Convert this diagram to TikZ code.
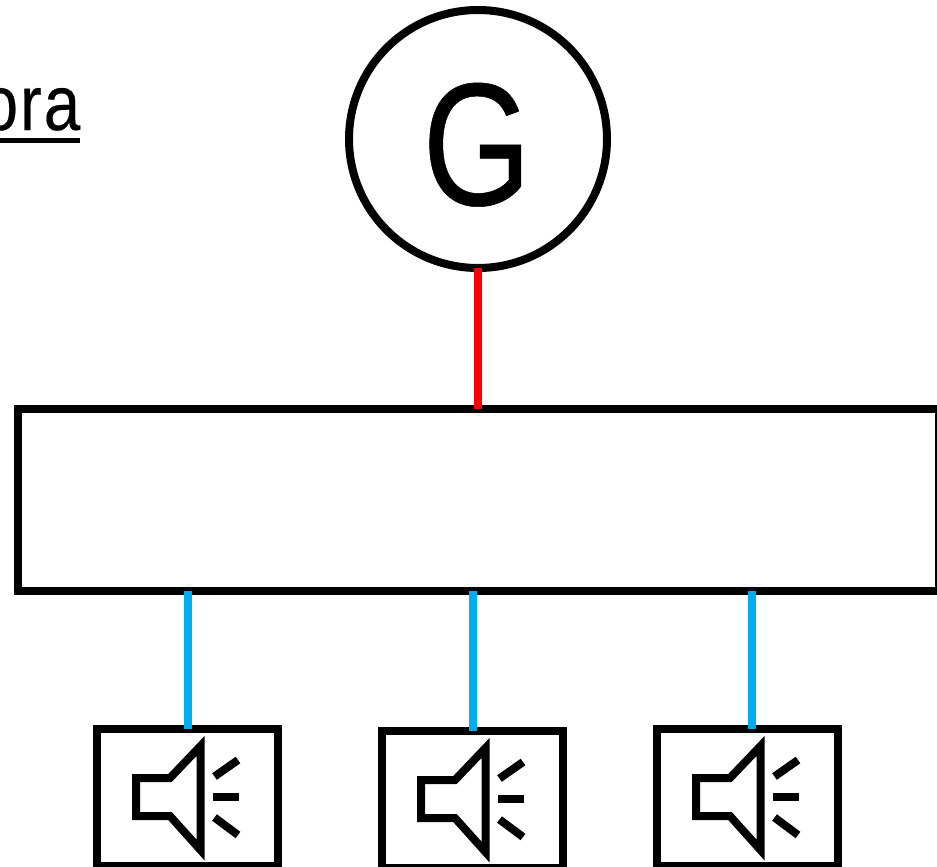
\documentclass[tikz,border=0pt]{standalone}
\usepackage{graphicx}
\usepackage{fontspec}
\setmainfont{Liberation Sans}
\newfontfamily\heavierfont[FakeBold=0.3]{Liberation Sans}
\newfontfamily\spacedfont[FakeBold=0.3,LetterSpace=3]{Liberation Sans}
\definecolor{wireblue}{HTML}{00AEEF}
\tikzset{
  x=1pt,y=-1pt,
  heavy/.style={draw=black,line width=8pt,fill=none,outer sep=0pt,inner sep=0pt,rectangle},
  spkbox/.style={heavy,minimum width=181pt,minimum height=137pt},
  redwire/.style={draw=red,line width=8pt},
  bluewire/.style={draw=wireblue,line width=8pt},
  pics/loudspeaker/.style={code={
    \draw[black,line width=8pt,miter limit=10] (136,778) -- (170,778) -- (200.5,746) -- (200.5,850) -- (170,816) -- (136,816) -- cycle;
    \draw[black,line width=8pt] (214.5,776.5) -- (238,760);
    \draw[black,line width=8pt] (213,797) -- (239,797);
    \draw[black,line width=8pt] (214.5,817.5) -- (238,835);
  }}
}
\begin{document}
\begin{tikzpicture}
\useasboundingbox (0,0) rectangle (937,867);
\clip (0,0) rectangle (937,867);
\node[circle,draw=black,line width=8pt,minimum size=258pt,inner sep=0pt,outer sep=0pt] (gen) at (478,139) {};
\node[anchor=base,inner sep=0pt] (glabel) at (477,205) {\scalebox{.80}[1]{\fontsize{175}{175}\selectfont\heavierfont G}};
\node[anchor=base east,inner sep=0pt] (oralabel) at (80.5,130) {\scalebox{.84}[1]{\fontsize{78}{78}\selectfont\spacedfont ora}};
\coordinate (ulstart) at (0,140);
\coordinate (ulend) at (80,140);
\draw[black,line width=5pt] (ulstart) -- (ulend);
\node[heavy,minimum width=921pt,minimum height=182pt] (main) at (478,499.5) {};
\node[spkbox] (s1) at (187.5,797.5) {};
\node[spkbox] (s2) at (472.5,799.5) {};
\node[spkbox] (s3) at (747.5,797.5) {};
\path (0,0) pic {loudspeaker};
\path (285,2) pic {loudspeaker};
\path (560,0) pic {loudspeaker};
\coordinate (s3top) at (752,729);
\draw[redwire] (gen.south) -- (main.north -| gen.south);
\draw[bluewire] (s1.north |- main.south) -- (s1.north);
\draw[bluewire] (s2.north |- main.south) -- (s2.north);
\draw[bluewire] (s3top |- main.south) -- (s3top);
\end{tikzpicture}
\end{document}
